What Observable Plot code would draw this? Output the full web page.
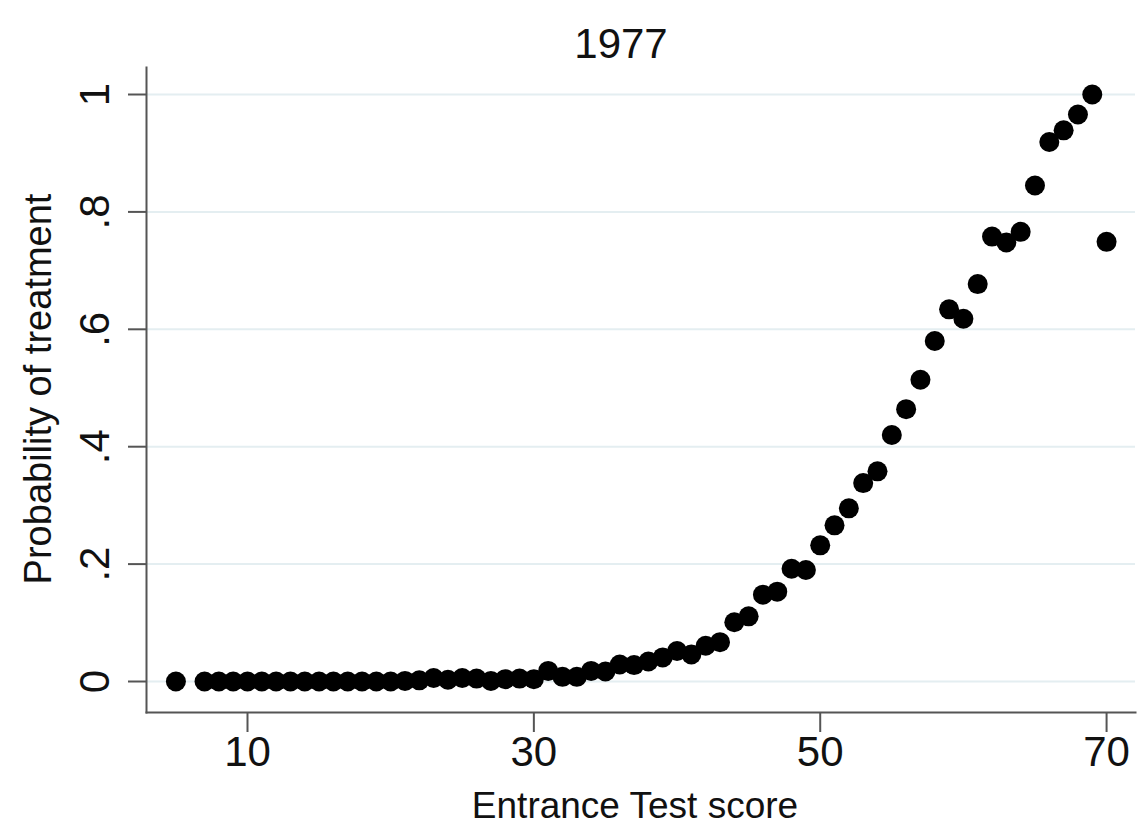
<!DOCTYPE html>
<html>
<head>
<meta charset="utf-8">
<script src="https://cdn.jsdelivr.net/npm/d3@7"></script>
<script src="https://cdn.jsdelivr.net/npm/@observablehq/plot@0.6"></script>
<style>
  html, body { margin: 0; padding: 0; background: #fff; }
  #chart { width: 1140px; height: 832px; }
</style>
</head>
<body>
<div id="chart"></div>
<script>
const titleText = "1977";
const xLabel = "Entrance Test score";
const yLabel = "Probability of treatment";

const scores = [5, 7, 8, 9, 10, 11, 12, 13, 14, 15, 16, 17, 18, 19, 20, 21, 22, 23, 24, 25, 26, 27, 28, 29, 30,
  31, 32, 33, 34, 35, 36, 37, 38, 39, 40, 41, 42, 43, 44, 45, 46, 47, 48, 49, 50,
  51, 52, 53, 54, 55, 56, 57, 58, 59, 60, 61, 62, 63, 64, 65, 66, 67, 68, 69, 70];
const probs = [0, 0, 0, 0, 0, 0, 0, 0, 0, 0, 0, 0, 0, 0, 0, 0.001, 0.002, 0.006, 0.003, 0.006, 0.005, 0.001, 0.004, 0.005, 0.004,
  0.018, 0.008, 0.008, 0.018, 0.017, 0.029, 0.028, 0.034, 0.041, 0.052, 0.046, 0.061, 0.067, 0.101, 0.111, 0.148, 0.153, 0.192, 0.19, 0.232,
  0.266, 0.295, 0.338, 0.358, 0.42, 0.464, 0.514, 0.58, 0.634, 0.618, 0.677, 0.758, 0.748, 0.766, 0.845, 0.919, 0.939, 0.966, 1.0, 0.749];

const xTicks = [10, 30, 50, 70];
const yTicks = [0, 0.2, 0.4, 0.6, 0.8, 1];
const yTickLabels = ["0", ".2", ".4", ".6", ".8", "1"];

const data = scores.map((s, i) => ({score: s, p: probs[i]}));
const font = "Arial, 'Liberation Sans', sans-serif";
const axisColor = "#555";

const chart = Plot.plot({
  width: 1140,
  height: 832,
  marginLeft: 146,
  marginRight: 5,
  marginTop: 67,
  marginBottom: 120,
  style: {fontFamily: font, background: "#fff", color: "#111"},
  x: {domain: [2.946, 72.02]},
  y: {domain: [-0.0528, 1.046]},
  marks: [
    Plot.ruleY(yTicks, {stroke: "#e4eef1", strokeWidth: 2}),
    Plot.frame({anchor: "left", stroke: axisColor, strokeWidth: 2}),
    Plot.frame({anchor: "bottom", stroke: axisColor, strokeWidth: 2}),
    Plot.axisY({ticks: yTicks, tickSize: 18, tickFormat: () => "", stroke: axisColor, strokeWidth: 2, label: null}),
    Plot.text(yTicks, {y: d => d, text: (d, i) => yTickLabels[i], frameAnchor: "left", dx: -51, rotate: -90, fontSize: 42, fill: "#111", textAnchor: "middle", lineAnchor: "middle"}),
    Plot.axisX({ticks: xTicks, tickSize: 20, fontSize: 42, tickPadding: 4, stroke: axisColor, strokeWidth: 2, label: null, fill: "#111"}),
    Plot.dot(data, {x: "score", y: "p", r: 10, fill: "#000", stroke: null}),
    Plot.text([titleText], {text: d => d, frameAnchor: "top", dy: -23, dx: -20, fontSize: 42, fill: "#111", lineAnchor: "middle", textAnchor: "middle"}),
    Plot.text([xLabel], {text: d => d, frameAnchor: "bottom", dy: 94, dx: -6, fontSize: 37, fill: "#111", lineAnchor: "middle", textAnchor: "middle"}),
    Plot.text([yLabel], {text: d => d, frameAnchor: "left", dx: -108, dy: -1, rotate: -90, fontSize: 38, fill: "#111", lineAnchor: "middle", textAnchor: "middle"})
  ]
});
document.getElementById("chart").appendChild(chart);
</script>
</body>
</html>
